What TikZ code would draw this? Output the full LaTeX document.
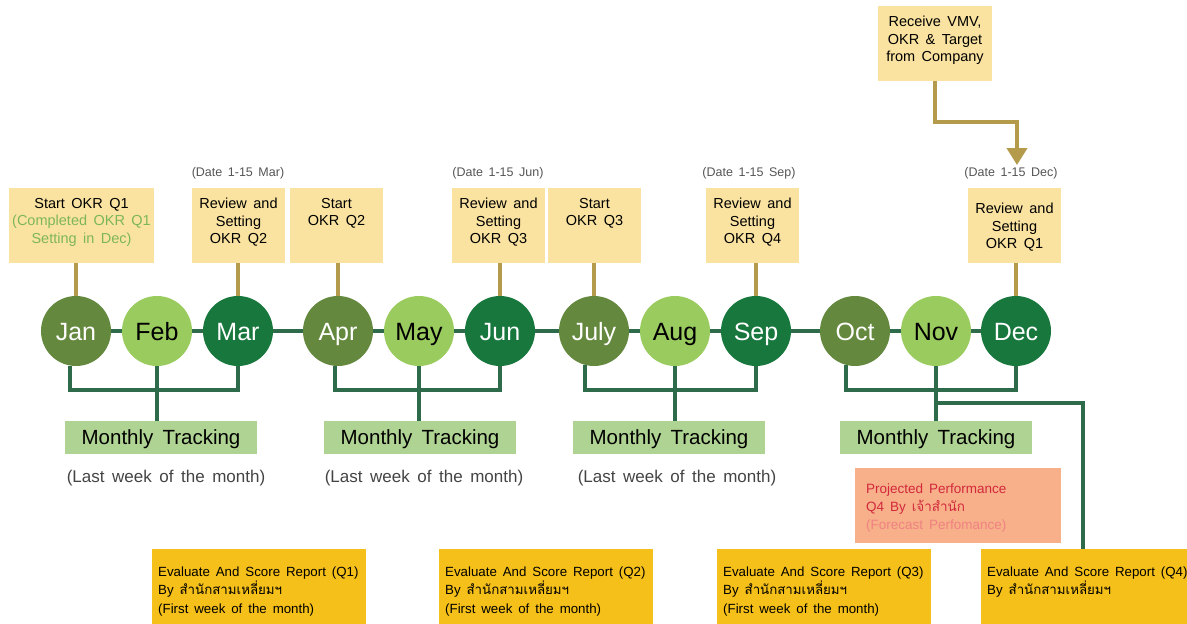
\documentclass[tikz,border=0pt]{standalone}
\usepackage{fontspec}
\setmainfont{Liberation Sans}[WordSpace=1.6]
\newfontfamily\thai[Script=Thai,WordSpace=1.6]{Loma}
\usetikzlibrary{arrows.meta,calc}
\definecolor{cOlive}{HTML}{64883D}
\definecolor{cLight}{HTML}{9ACB5E}
\definecolor{cDark}{HTML}{18773D}
\definecolor{cLine}{HTML}{2E6B4A}
\definecolor{cGold}{HTML}{B49B4C}
\definecolor{cTop}{HTML}{FAE3A0}
\definecolor{cMT}{HTML}{AED392}
\definecolor{cOrange}{HTML}{F7B08A}
\definecolor{cYel}{HTML}{F6C01A}
\definecolor{cGreenTxt}{HTML}{7DB65A}
\definecolor{cRed}{HTML}{D2283C}
\definecolor{cPink}{HTML}{F08282}
\definecolor{cGray}{HTML}{555555}
\definecolor{cGrayB}{HTML}{444444}
\begin{document}
\begin{tikzpicture}[x=1pt,y=-1pt,
  month/.style={circle, minimum size=70pt, inner sep=0pt, text height=18pt, text depth=0pt, font=\fontsize{25}{25}\selectfont},
  mA/.style={month, fill=cOlive, text=white},
  mB/.style={month, fill=cLight, text=black},
  mC/.style={month, fill=cDark, text=white},
  topbox/.style={fill=cTop, minimum height=75pt, inner sep=0pt},
  ttxt/.style={align=center, inner sep=0pt, anchor=north, font=\fontsize{14.5}{17.5}\selectfont},
  datelbl/.style={text=cGray, inner sep=0pt, font=\fontsize{12.5}{14}\selectfont},
  mtbox/.style={fill=cMT, minimum width=192pt, minimum height=33pt, inner sep=0pt, text height=14.8pt, text depth=0pt, font=\fontsize{20.5}{22}\selectfont},
  lastwk/.style={text=cGrayB, inner sep=0pt, font=\fontsize{17}{19}\selectfont},
  ybox/.style={fill=cYel, minimum width=214pt, minimum height=82pt, anchor=north west, inner sep=0pt},
  btxt/.style={align=left, anchor=north west, inner sep=0pt, font=\fontsize{13.3}{18.5}\selectfont},
  obox/.style={fill=cOrange, minimum width=206pt, minimum height=75pt, inner sep=0pt},
  gline/.style={draw=cLine, line width=4pt},
  bline/.style={draw=cLine, line width=3.5pt},
  stemline/.style={draw=cGold, line width=4pt},
]
\useasboundingbox (0,0) rectangle (1187,624);
\clip (0,0) rectangle (1187,624);
\fill[white] (0,0) rectangle (1187,624);

% top company box
\node[topbox, minimum width=114pt] (vmv) at (935,43.5) {};
\node[ttxt] (vmvt) at ([shift={(0,10)}]vmv.north) {Receive VMV,\\OKR \& Target\\from Company};

% top boxes
\node[topbox, minimum width=145pt] (b1) at (81.5,225.5) {};
\node[topbox, minimum width=93pt] (b3) at (238.5,225.5) {};
\node[topbox, minimum width=93pt] (b4) at (336.5,225.5) {};
\node[topbox, minimum width=93pt] (b6) at (498.5,225.5) {};
\node[topbox, minimum width=93pt] (b7) at (594.5,225.5) {};
\node[topbox, minimum width=93pt] (b9) at (752.5,225.5) {};
\node[topbox, minimum width=93pt] (b12) at (1014.5,225.5) {};

\node[ttxt] (b1t) at ([shift={(0,10)}]b1.north) {Start OKR Q1\\\textcolor{cGreenTxt}{(Completed OKR Q1}\\\textcolor{cGreenTxt}{Setting in Dec)}};
\node[ttxt] (b3t) at ([shift={(0,10)}]b3.north) {Review and\\Setting\\OKR Q2};
\node[ttxt] (b4t) at ([shift={(0,10)}]b4.north) {Start\\OKR Q2};
\node[ttxt] (b6t) at ([shift={(0,10)}]b6.north) {Review and\\Setting\\OKR Q3};
\node[ttxt] (b7t) at ([shift={(0,10)}]b7.north) {Start\\OKR Q3};
\node[ttxt] (b9t) at ([shift={(0,10)}]b9.north) {Review and\\Setting\\OKR Q4};
\node[ttxt] (b12t) at ([shift={(0,15)}]b12.north) {Review and\\Setting\\OKR Q1};

% date labels
\node[datelbl] (dmar) at (238,173.5) {(Date 1-15 Mar)};
\node[datelbl] (djun) at (498,173.5) {(Date 1-15 Jun)};
\node[datelbl] (dsep) at (749,173.5) {(Date 1-15 Sep)};
\node[datelbl] (ddec) at (1011,173.5) {(Date 1-15 Dec)};

% months
\node[mA] (jan) at (76,331) {Jan};
\node[mB] (feb) at (157,331) {Feb};
\node[mC] (mar) at (238,331) {Mar};
\node[mA] (apr) at (338,331) {Apr};
\node[mB] (may) at (419,331) {May};
\node[mC] (jun) at (500,331) {Jun};
\node[mA] (jul) at (594,331) {July};
\node[mB] (aug) at (675,331) {Aug};
\node[mC] (sep) at (756,331) {Sep};
\node[mA] (oct) at (855,331) {Oct};
\node[mB] (nov) at (936,331) {Nov};
\node[mC] (dec) at (1016,331) {Dec};

\foreach \a/\b in {jan/feb,feb/mar,mar/apr,apr/may,may/jun,jun/jul,jul/aug,aug/sep,sep/oct,oct/nov,nov/dec}
  \draw[gline] (\a) -- (\b);

% stems
\draw[stemline] (jan.north |- b1.south) -- (jan.north);
\draw[stemline] (mar.north |- b3.south) -- (mar.north);
\draw[stemline] (apr.north |- b4.south) -- (apr.north);
\draw[stemline] (jun.north |- b6.south) -- (jun.north);
\draw[stemline] (jul.north |- b7.south) -- (jul.north);
\draw[stemline] (sep.north |- b9.south) -- (sep.north);
\draw[stemline] (dec.north |- b12.south) -- (dec.north);

% arrow from company
\coordinate (turn) at (935,122);
\coordinate (tip) at (1017,165);
\draw[stemline, -{Triangle[width=20pt,length=17pt]}] (vmv.south) -- (turn) -| (tip);

% monthly tracking boxes
\node[mtbox] (mt1) at (161,437.5) {Monthly Tracking};
\node[mtbox] (mt2) at (420,437.5) {Monthly Tracking};
\node[mtbox] (mt3) at (669,437.5) {Monthly Tracking};
\node[mtbox] (mt4) at (936,437.5) {Monthly Tracking};

\node[lastwk] (lw1) at (166,478) {(Last week of the month)};
\node[lastwk] (lw2) at (424,478) {(Last week of the month)};
\node[lastwk] (lw3) at (677,478) {(Last week of the month)};

% brackets
\coordinate (g) at (0,390);
\draw[bline] (jan.260) |- (g -| mar.south) -- (mar.south);
\draw[bline] (feb.south) -- (feb.south |- mt1.north);
\draw[bline] (apr.265) |- (g -| jun.south) -- (jun.south);
\draw[bline] (may.south) -- (may.south |- mt2.north);
\draw[bline] (jul.255) |- (g -| sep.south) -- (sep.south);
\draw[bline] (aug.south) -- (aug.south |- mt3.north);
\draw[bline] (oct.255) |- (g -| dec.south) -- (dec.south);
\draw[bline] (nov.south) -- (nov.south |- mt4.north);

% projected performance
\node[obox] (proj) at (958,505.5) {};
\node[btxt, font=\fontsize{13.5}{18.3}\selectfont] (projt) at ([shift={(11,15.5)}]proj.north west)
  {\textcolor{cRed}{Projected Performance}\\\textcolor{cRed}{Q4 By {\thai เจ้าสำนัก}}\\\textcolor{cPink}{(Forecast Perfomance)}};

% evaluate boxes
\node[ybox] (q1) at (152,549) {};
\node[ybox] (q2) at (439,549) {};
\node[ybox] (q3) at (717,549) {};
\node[ybox] (q4) at (981,549) {};
\node[btxt] (q1t) at ([shift={(6,17.5)}]q1.north west) {Evaluate And Score Report (Q1)\\By {\thai สำนักสามเหลี่ยมฯ}\\(First week of the month)};
\node[btxt] (q2t) at ([shift={(6,17.5)}]q2.north west) {Evaluate And Score Report (Q2)\\By {\thai สำนักสามเหลี่ยมฯ}\\(First week of the month)};
\node[btxt] (q3t) at ([shift={(6,17.5)}]q3.north west) {Evaluate And Score Report (Q3)\\By {\thai สำนักสามเหลี่ยมฯ}\\(First week of the month)};
\node[btxt] (q4t) at ([shift={(6,17.5)}]q4.north west) {Evaluate And Score Report (Q4)\\By {\thai สำนักสามเหลี่ยมฯ}};

% Nov branch to Q4
\coordinate (nb) at (936,403);
\draw[bline] (nb) -| ([xshift=-5pt]q4.north);
\end{tikzpicture}
\end{document}
